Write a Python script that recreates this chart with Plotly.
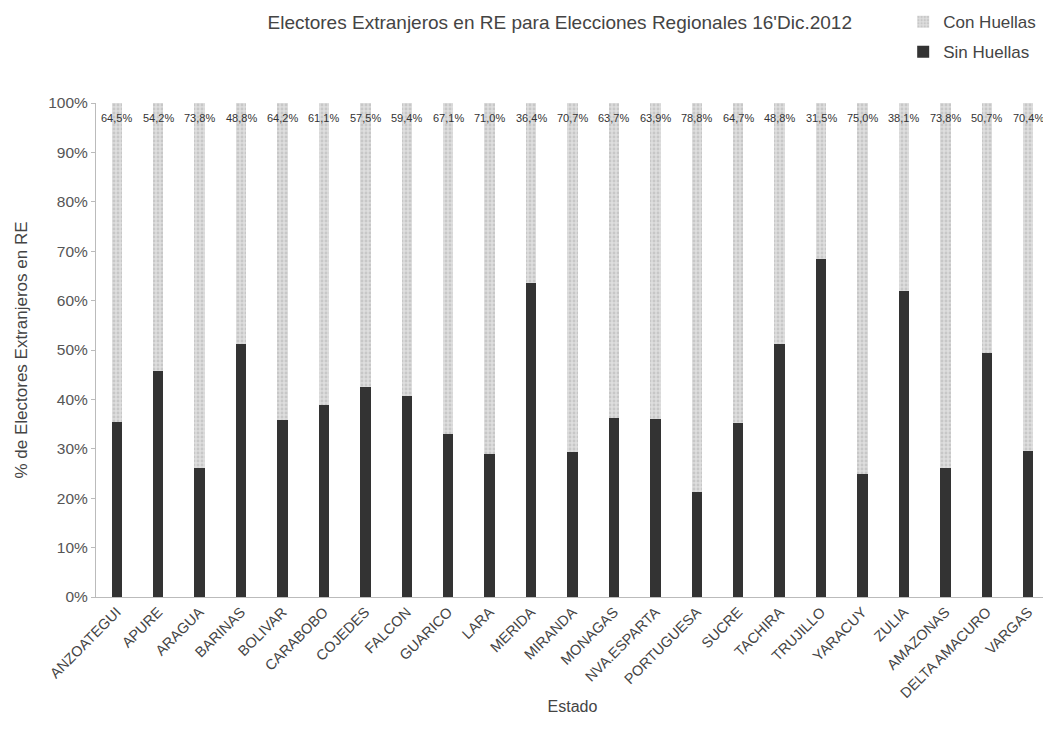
import plotly.graph_objects as go

estados = ["ANZOATEGUI", "APURE", "ARAGUA", "BARINAS", "BOLIVAR", "CARABOBO", "COJEDES",
           "FALCON", "GUARICO", "LARA", "MERIDA", "MIRANDA", "MONAGAS", "NVA.ESPARTA",
           "PORTUGUESA", "SUCRE", "TACHIRA", "TRUJILLO", "YARACUY", "ZULIA", "AMAZONAS",
           "DELTA AMACURO", "VARGAS"]
sin_huellas = [35.5, 45.8, 26.2, 51.2, 35.8, 38.9, 42.5, 40.6, 32.9, 29.0, 63.6, 29.3,
               36.3, 36.1, 21.2, 35.3, 51.2, 68.5, 25.0, 61.9, 26.2, 49.3, 29.6]
con_huellas = [64.5, 54.2, 73.8, 48.8, 64.2, 61.1, 57.5, 59.4, 67.1, 71.0, 36.4, 70.7,
               63.7, 63.9, 78.8, 64.7, 48.8, 31.5, 75.0, 38.1, 73.8, 50.7, 70.4]
etiquetas = ["64,5%", "54,2%", "73,8%", "48,8%", "64,2%", "61,1%", "57,5%", "59,4%",
             "67,1%", "71,0%", "36,4%", "70,7%", "63,7%", "63,9%", "78,8%", "64,7%",
             "48,8%", "31,5%", "75,0%", "38,1%", "73,8%", "50,7%", "70,4%"]
y_ticks = [0, 10, 20, 30, 40, 50, 60, 70, 80, 90, 100]
y_tick_text = ["0%", "10%", "20%", "30%", "40%", "50%", "60%", "70%", "80%", "90%", "100%"]

fig = go.Figure()
fig.add_trace(go.Bar(x=estados, y=sin_huellas, name="Sin Huellas", legendgroup="sin",
                     legendrank=2,
                     marker=dict(color="#333333", line=dict(width=0)), width=0.25))
fig.add_trace(go.Bar(x=estados, y=con_huellas, name="Con Huellas", legendgroup="con",
                     legendrank=1,
                     marker=dict(color="#d4d4d4", line=dict(width=0),
                                 pattern=dict(shape=".", fgcolor="#b0b0b0", bgcolor="#dedede", size=4, solidity=0.4)),
                     width=0.25))

for e, t in zip(estados, etiquetas):
    fig.add_annotation(x=e, y=100, text=t, showarrow=False, yshift=-15,
                       font=dict(size=11, color="#333333", family="Arial, Liberation Sans"))

fig.update_layout(
    barmode="stack",
    width=1043, height=736,
    paper_bgcolor="white", plot_bgcolor="white",
    margin=dict(l=88, r=2, t=95, b=147, autoexpand=False),
    font=dict(family="Arial, Liberation Sans, sans-serif", color="#444444"),
    title=dict(text="Electores Extranjeros en RE para Elecciones Regionales 16'Dic.2012",
               x=0.529, xanchor="center", y=0.981, yanchor="middle",
               font=dict(size=19, color="#444444")),
    legend=dict(x=0.847, y=1.2, xanchor="left", yanchor="top", traceorder="grouped",
                tracegroupgap=5,
                font=dict(size=17, color="#444444"), itemwidth=30, bgcolor="rgba(0,0,0,0)"),
    xaxis=dict(tickangle=-45, tickfont=dict(size=14.5, color="#444444"),
               showline=True, linecolor="#bbbbbb", linewidth=1, ticks="",
               title=dict(text="Estado", font=dict(size=16, color="#444444"), standoff=0),
               range=[-0.5, 22.5]),
    yaxis=dict(range=[0, 100], tickvals=y_ticks, ticktext=y_tick_text,
               tickfont=dict(size=15.5, color="#555555"), showgrid=False,
               showline=True, linecolor="#bbbbbb", linewidth=1, ticks="outside",
               ticklen=4, tickcolor="#bbbbbb",
               title=dict(text="% de Electores Extranjeros en RE", font=dict(size=17, color="#444444"), standoff=16)),
)

fig.write_html("out.html")
